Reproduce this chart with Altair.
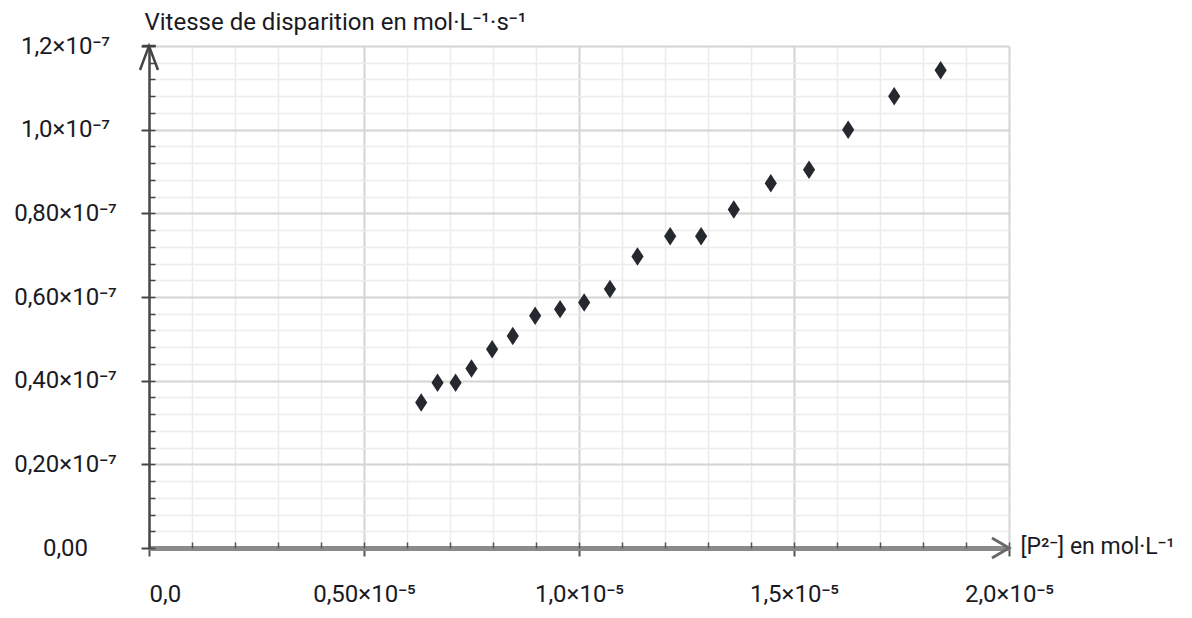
import json
import altair as alt
import pandas as pd

# ---- data ----
conc = [0.633e-5, 0.671e-5, 0.713e-5, 0.750e-5, 0.798e-5, 0.846e-5, 0.898e-5,
        0.956e-5, 1.012e-5, 1.072e-5, 1.136e-5, 1.212e-5, 1.284e-5, 1.360e-5,
        1.446e-5, 1.535e-5, 1.626e-5, 1.733e-5, 1.841e-5]
speed = [0.348e-7, 0.395e-7, 0.395e-7, 0.429e-7, 0.475e-7, 0.507e-7, 0.555e-7,
         0.571e-7, 0.587e-7, 0.619e-7, 0.697e-7, 0.745e-7, 0.745e-7, 0.809e-7,
         0.872e-7, 0.904e-7, 1.000e-7, 1.080e-7, 1.142e-7]

x_ticks = [float(f"{i}e-6") for i in range(21)]
y_ticks = [float(f"{4 * i}e-9") for i in range(31)]
x_labels = ["0,0", "0,50×10⁻⁵", "1,0×10⁻⁵", "1,5×10⁻⁵", "2,0×10⁻⁵"]
y_labels = ["0,00", "0,20×10⁻⁷", "0,40×10⁻⁷", "0,60×10⁻⁷", "0,80×10⁻⁷", "1,0×10⁻⁷", "1,2×10⁻⁷"]
x_title = "[P²⁻] en mol·L⁻¹"
y_title = "Vitesse de disparition en mol·L⁻¹·s⁻¹"
x_max = 2.0e-5
y_max = 1.2e-7

FONT = "Liberation Sans Narrow, Roboto, Liberation Sans, sans-serif"
W, H = 860, 502

df = pd.DataFrame({"c": conc, "v": speed})
xarrow = pd.DataFrame({"c": [x_max], "v": [0.0]})
yarrow = pd.DataFrame({"c": [0.0], "v": [y_max]})

xs = alt.Scale(domain=[0, x_max * 1.0000001], nice=False, zero=False)
ys = alt.Scale(domain=[0, y_max * 1.0000001], nice=False, zero=False)

xl = json.dumps(x_labels, ensure_ascii=False)
yl = json.dumps(y_labels, ensure_ascii=False)
x_major = "round(datum.value*1e6) % 5 == 0"
y_major = "round(datum.value*1e9/4) % 5 == 0"

x_axis = alt.Axis(
    values=x_ticks, grid=True,
    gridColor={"condition": {"test": x_major, "value": "#d4d4d4"}, "value": "#ececec"},
    gridWidth={"condition": {"test": x_major, "value": 2}, "value": 1.5},
    labelExpr=f"{x_major} ? {xl}[round(datum.value*1e6/5)] : ''",
    labelFont=FONT, labelFontSize=24, labelColor="#1a1a24", labelPadding=26,
    labelAlign={"condition": {"test": "datum.value == 0", "value": "left"}, "value": "center"},
    labelBaseline="top", labelFlush=False, labelOverlap=False,
    tickSize=8, tickWidth=2,
    tickColor={"condition": {"test": x_major, "value": "#555"}, "value": "transparent"},
    domainColor="#8a8a8a", domainWidth=5,
    title=x_title, titleFont=FONT, titleFontSize=23, titleFontWeight="normal",
    titleColor="#1a1a24", titleAngle=0, titleAlign="left", titleBaseline="middle",
    titleX=W + 11, titleY=-2,
)
y_axis = alt.Axis(
    values=y_ticks, grid=True,
    gridColor={"condition": {"test": y_major, "value": "#d4d4d4"}, "value": "#ececec"},
    gridWidth={"condition": {"test": y_major, "value": 2}, "value": 1.5},
    labelExpr=f"{y_major} ? {yl}[round(datum.value*1e9/20)] : ''",
    labelFont=FONT, labelFontSize=24, labelColor="#1a1a24", labelPadding=76,
    labelAlign="center", labelBaseline="middle", labelFlush=False, labelOverlap=False,
    tickSize=8, tickWidth=2,
    tickColor={"condition": {"test": y_major, "value": "#444"}, "value": "transparent"},
    domainColor="#4a4a4a", domainWidth=2.5,
    title=y_title, titleFont=FONT, titleFontSize=24, titleFontWeight="normal",
    titleColor="#1a1a24", titleAngle=0, titleAlign="left", titleBaseline="middle",
    titleX=-5, titleY=-24,
)

points = alt.Chart(df).mark_point(
    shape="M0,-1L0.66,0L0,1L-0.66,0Z", filled=True, color="#262830", opacity=1, size=340
).encode(
    x=alt.X("c:Q", scale=xs, axis=x_axis),
    y=alt.Y("v:Q", scale=ys, axis=y_axis),
)

# inward minor ticks (top axis pulled down to the bottom, right axis pulled to the left)
x_in = alt.Axis(values=x_ticks, orient="top", offset=-H, grid=False, labels=False,
                domain=False, tickSize=6, tickWidth=1.5, tickColor="#555", title=None)
y_in = alt.Axis(values=y_ticks, orient="right", offset=-W, grid=False, labels=False,
                domain=False, tickSize=6, tickWidth=1.5, tickColor="#444", title=None)

x_arrow = alt.Chart(xarrow).mark_point(
    shape="M-1.7,-1L0,0L-1.7,1", filled=False, color="#6a6a6a", strokeWidth=3, size=400, opacity=1
).encode(
    x=alt.X("c:Q", scale=xs, axis=x_in),
    y=alt.Y("v:Q", scale=ys, axis=y_in),
)
y_arrow = alt.Chart(yarrow).mark_point(
    shape="M-0.6,1.6L0,0L0.6,1.6M-0.45,0L0.45,0", filled=False, color="#444", strokeWidth=2.5,
    size=900, opacity=1
).encode(
    x=alt.X("c:Q", scale=xs, axis=None),
    y=alt.Y("v:Q", scale=ys, axis=None),
)

chart = alt.layer(points, x_arrow, y_arrow).resolve_axis(
    x="independent", y="independent"
).properties(
    width=W, height=H,
    autosize=alt.AutoSizeParams(type="none"),
    padding={"left": 141, "top": 38, "right": 175, "bottom": 62},
).configure_view(stroke=None).configure(background="white")

chart.save("out.html", embed_options={"renderer": "svg", "actions": False})
